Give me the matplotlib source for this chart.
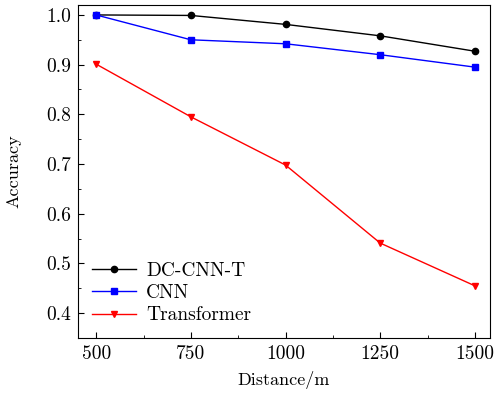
import matplotlib
matplotlib.use("Agg")
import matplotlib.pyplot as plt
from matplotlib.ticker import MultipleLocator

plt.rcParams['font.family'] = 'serif'
plt.rcParams['font.serif'] = ['cmr10', 'DejaVu Serif']
plt.rcParams['axes.formatter.use_mathtext'] = True
plt.rcParams['mathtext.fontset'] = 'cm'

distance = [500, 750, 1000, 1250, 1500]
dc_cnn_t = [1.0, 0.999, 0.981, 0.958, 0.927]
cnn = [1.0, 0.950, 0.942, 0.920, 0.895]
transformer = [0.901, 0.795, 0.698, 0.541, 0.455]

fig = plt.figure(figsize=(4.96, 3.98), dpi=100)
ax = fig.add_axes([78/496, 60/398, 412/496, 333/398])

ax.plot(distance, dc_cnn_t, color='black', marker='o', markersize=4.5, lw=1, label='DC-CNN-T')
ax.plot(distance, cnn, color='blue', marker='s', markersize=4.5, lw=1, label='CNN')
ax.plot(distance, transformer, color='red', marker='v', markersize=5, lw=1, label='Transformer')

ax.set_xlim(452, 1540)
ax.set_ylim(0.35, 1.02)
ax.set_xticks(distance)
ax.set_xticklabels([str(d) for d in distance])
ax.xaxis.set_minor_locator(MultipleLocator(125))
ax.yaxis.set_major_locator(MultipleLocator(0.1))
ax.yaxis.set_minor_locator(MultipleLocator(0.05))
ax.set_yticklabels(['{:.1f}'.format(v) for v in ax.get_yticks()])
ax.tick_params(direction='in', which='both', labelsize=14, top=False, right=False)
ax.tick_params(which='major', length=4, pad=5)
ax.tick_params(which='minor', length=2.5)
ax.set_xlabel('Distance/m', fontsize=13, labelpad=6)
ax.set_ylabel('Accuracy', fontsize=13, labelpad=18)
ax.legend(loc='lower left', frameon=False, fontsize=14, handlelength=2.3,
          borderaxespad=0.3, labelspacing=0.22, handletextpad=0.5,
          bbox_to_anchor=(0.0, 0.0))

fig.savefig('out.png', dpi=100)
